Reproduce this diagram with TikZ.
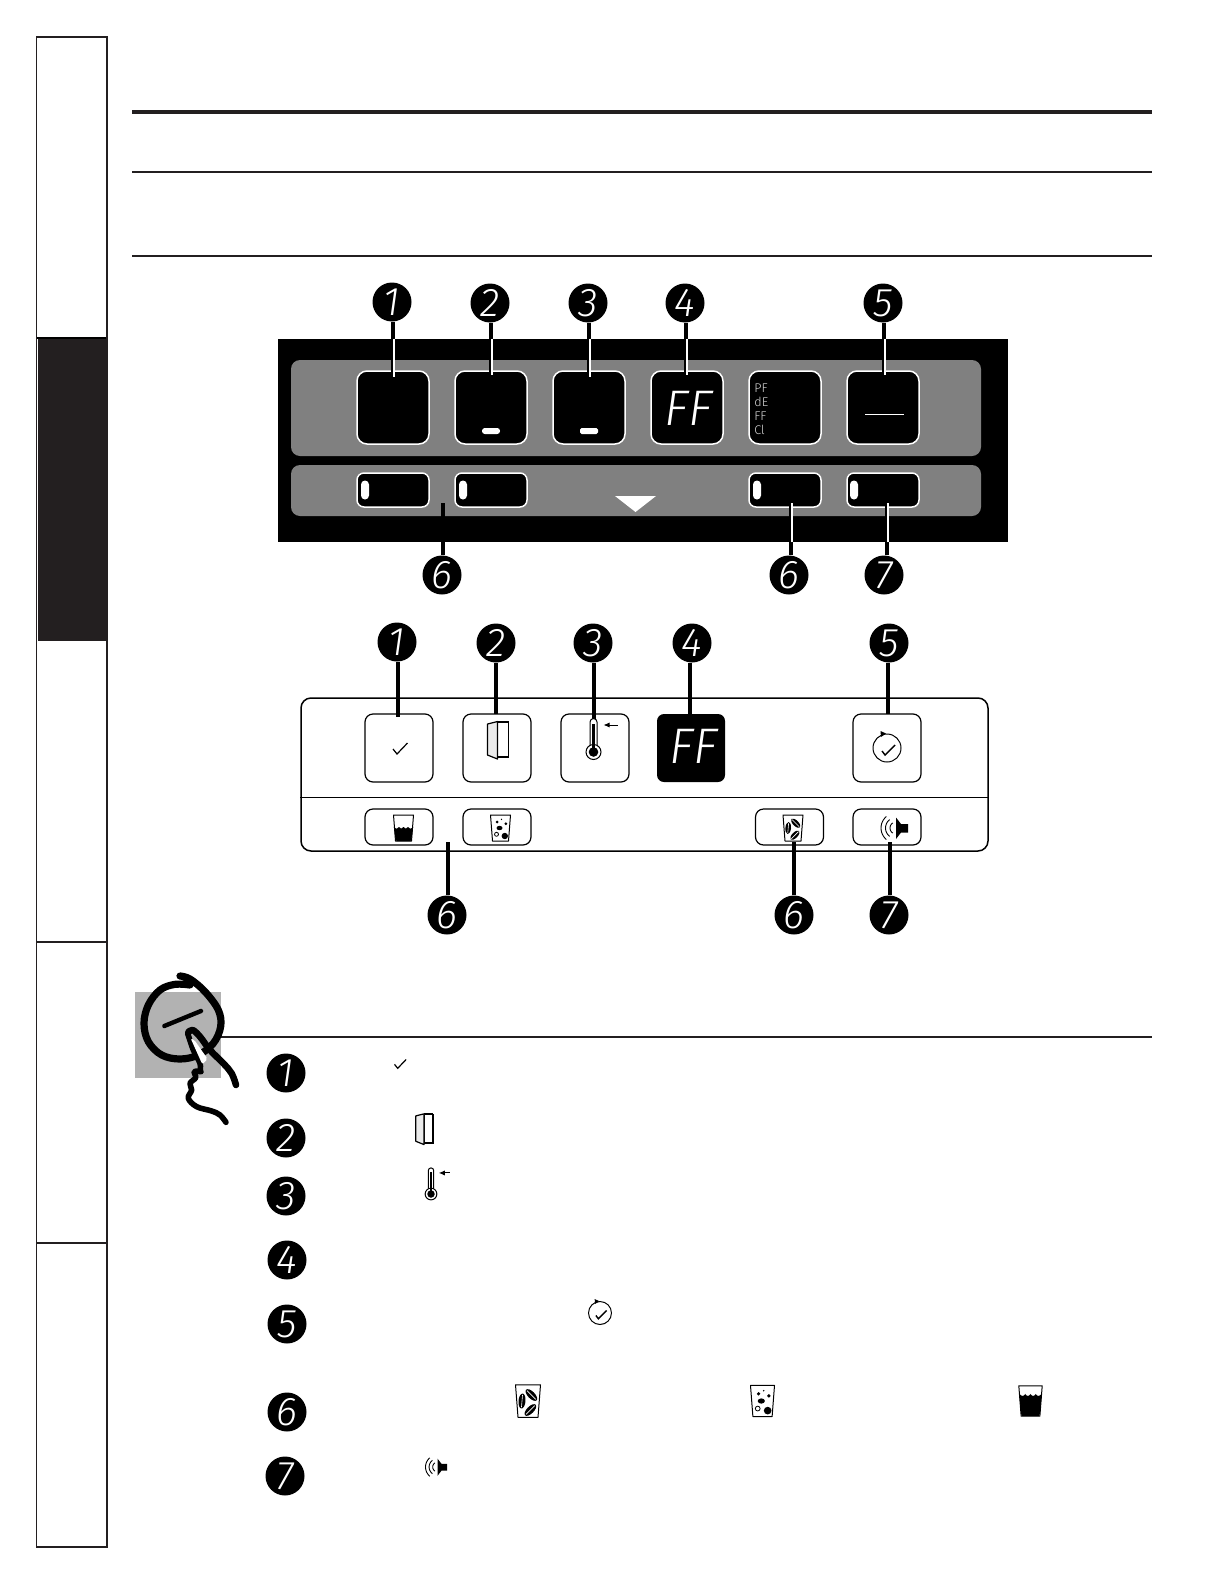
\documentclass[tikz,border=0pt]{standalone}
\usepackage{fontspec}
\setsansfont{Open Sans}
\newfontfamily\thinfont[ItalicFont={Fira Sans Light Italic}]{Fira Sans Light}
\definecolor{ink}{HTML}{231F20}
\definecolor{panelgrey}{HTML}{808080}
\definecolor{tabgrey}{HTML}{B2B2B2}
\usetikzlibrary{arrows.meta}
\tikzset{
  x=0.5pt,y=-0.5pt,
  badge/.style={circle,fill=black,minimum size=19.5pt,inner sep=0pt,text=white,font=\thinfont\itshape\fontsize{20}{20}\selectfont},
  darkbtn/.style={rectangle,rounded corners=5pt,draw=white,line width=.75pt,fill=black,inner sep=0pt},
  lightbtn/.style={rectangle,rounded corners=4pt,draw=black,line width=.6pt,fill=white,inner sep=0pt},
  bigbtn/.style={minimum width=36pt,minimum height=36.5pt},
  smallbtn/.style={minimum width=36pt,minimum height=17pt,rounded corners=3.5pt},
  lbigbtn/.style={minimum width=34pt,minimum height=34pt},
  lsmallbtn/.style={minimum width=34pt,minimum height=18pt},
  leadblack/.style={draw=black,line width=2pt},
  leadwhite/.style={draw=white,line width=1.25pt},
  rulethin/.style={draw=ink,line width=1pt},
  pill/.style={fill=white,rounded corners=2pt},
  ffont/.style={text=white,inner sep=0pt,font=\thinfont\itshape\fontsize{25}{25}\selectfont},
  hand/.style={draw=black,line cap=round,line join=round},
}
\newcommand{\iconcheck}[3]{\begin{scope}[shift={(#1,#2)},scale=#3]
  \draw[black,line width=.6pt] (-5,1) -- (-1,6) -- (9.5,-5);
\end{scope}}
\newcommand{\icondoor}[3]{\begin{scope}[shift={(#1,#2)},scale=#3]
  \draw[black,line width=.6pt,fill=white] (0,-18) rectangle (11,17);
  \draw[black,line width=1.1pt] (0,-18) -- (11,-18);
  \draw[black,line width=.6pt,fill=white!92!black,line join=round] (-10,-16) -- (0,-18.5) -- (0,19) -- (-10,15) -- cycle;
\end{scope}}
\newcommand{\iconthermo}[3]{\begin{scope}[shift={(#1,#2)},scale=#3]
  \draw[black,line width=.5pt,fill=white] (-3.5,-5) -- (-3.5,-30) arc[start angle=180,end angle=360,radius=3.5] -- (3.5,-5) -- cycle;
  \draw[black,line width=.5pt,fill=white] (0,0) circle[radius=7.5];
  \fill[black] (0,0) circle[radius=4.8];
  \fill[white] (-2.6,-6.5) rectangle (2.6,-5);
  \draw[black,line width=1.1pt] (0,-2) -- (0,-28);
  \draw[black,line width=.5pt,-{Latex[length=3pt,width=2.6pt]}] (24,-27) -- (10,-27);
\end{scope}}
\newcommand{\iconclock}[3]{\begin{scope}[shift={(#1,#2)},scale=#3]
  \draw[black,line width=.5pt] (0,0) circle[radius=14];
  \fill[black] (-6.5,-17) -- (-1,-14.5) -- (-6,-11) -- cycle;
  \draw[black,line width=.7pt] (-5,3) -- (-2,7) -- (8,-3);
\end{scope}}
\newcommand{\iconglass}{\draw[black,line width=.5pt,line join=round] (-10,-13) -- (10,-13) -- (8,13) -- (-8,13) -- cycle;}
% #4 = height of the liquid's wavy surface
\newcommand{\iconwater}[4]{\begin{scope}[shift={(#1,#2)},scale=#3]
  \iconglass
  \fill[black] (-9.6,#4) .. controls (-7,{#4+2.2}) and (-6,{#4+2.2}) .. (-4.5,#4) .. controls (-3,{#4+2.2}) and (-1.5,{#4+2.2}) .. (0,#4) .. controls (1.5,{#4+2.2}) and (3,{#4+2.2}) .. (4.5,#4) .. controls (6,{#4+2.2}) and (7,{#4+2.2}) .. (9.6,#4) -- (8,11) -- (7,13) -- (-7,13) -- (-8,11) -- cycle;
\end{scope}}
\newcommand{\iconice}[3]{\begin{scope}[shift={(#1,#2)},scale=#3]
  \iconglass
  \fill[black] (-3.3,-6) circle[radius=1.5];
  \fill[black] (1,-8.6) circle[radius=.7];
  \fill[black] (5.3,-4.3) circle[radius=1.5];
  \fill[black] (-1,0) ellipse[x radius=3,y radius=2.2];
  \draw[black,line width=.4pt] (-4,6.3) circle[radius=2];
  \fill[black] (4.3,8) circle[radius=3.2];
\end{scope}}
\newcommand{\onebean}[3]{\fill[black,rotate around={#3:(#1,#2)}] (#1,#2) ellipse[x radius=6,y radius=2.8];
  \draw[white,line width=.3pt,rotate around={#3:(#1,#2)}] ({#1-5},#2) -- ({#1+5},#2);}
\newcommand{\iconbeans}[3]{\begin{scope}[shift={(#1,#2)},scale=#3]
  \iconglass
  \onebean{-4.8}{0}{85}
  \onebean{2.7}{-4.8}{-45}
  \onebean{1.9}{7.2}{45}
\end{scope}}
\newcommand{\iconspeaker}[3]{\begin{scope}[shift={(#1,#2)},scale=#3]
  \fill[black] (0,-10.5) -- (5,-4) -- (12,-4) -- (12,4.5) -- (5,4.5) -- (0,11) -- cycle;
  \draw[black,line width=.45pt] plot[domain=122:238,samples=13,smooth] ({6*cos(\x)},{6*sin(\x)});
  \draw[black,line width=.45pt] plot[domain=127:233,samples=13,smooth] ({10.5*cos(\x)},{10.5*sin(\x)});
  \draw[black,line width=.45pt] plot[domain=130:230,samples=13,smooth] ({15*cos(\x)},{15*sin(\x)});
\end{scope}}
\begin{document}
\begin{tikzpicture}
\useasboundingbox (0,0) rectangle (1224,1584);
\fill[white] (0,0) rectangle (1224,1584);

% side tabs
\fill[ink] (38,337) rectangle (106,641);
\draw[black,line width=1pt] (37,337.5) -- (107,337.5);
\draw[ink,line width=.8pt] (36.5,37) -- (36.5,1547);
\draw[ink,line width=1.25pt] (107,37) -- (107,1547);
\draw[ink,line width=1.2pt] (36,37) -- (108,37);
\draw[ink,line width=1.2pt] (36,1547) -- (108,1547);
\draw[ink,line width=1.4pt] (37,942) -- (107,942);
\draw[ink,line width=1.4pt] (37,1243) -- (107,1243);

% header rules
\draw[ink,line width=2pt] (132,112) -- (1152,112);
\draw[rulethin] (132,172) -- (1152,172);
\draw[rulethin] (132,256) -- (1152,256);

% dark panel
\node[fill=black,inner sep=0pt,minimum width=365pt,minimum height=101.5pt] (toppanel) at (643,440.5) {};
\fill[panelgrey,rounded corners=4.5pt] (291,360) rectangle (981,456);
\fill[panelgrey,rounded corners=4.5pt] (291,465) rectangle (981,516);
\node[darkbtn,bigbtn] (pa) at (393,407.5) {};
\node[darkbtn,bigbtn] (pb) at (491,407.5) {};
\node[darkbtn,bigbtn] (pc) at (589,407.5) {};
\node[darkbtn,bigbtn] (pd) at (687,407.5) {};
\node[darkbtn,bigbtn] (pe) at (785,407.5) {};
\node[darkbtn,bigbtn] (pf) at (883,407.5) {};
\node[darkbtn,smallbtn] (qa) at (393,490) {};
\node[darkbtn,smallbtn] (qb) at (491,490) {};
\node[darkbtn,smallbtn] (qe) at (785,490) {};
\node[darkbtn,smallbtn] (qf) at (883,490) {};
\fill[white,rounded corners=1.4pt] (482,428) rectangle (500,434);
\fill[white,rounded corners=.8pt] (580,428) rectangle (598,434);
\draw[white,line width=.5pt] (865,414) -- (904,414);
\fill[pill] (361,480.5) rectangle (369,499.5);
\fill[pill] (459,480.5) rectangle (467,499.5);
\fill[pill] (753,480.5) rectangle (761,499.5);
\fill[pill] (850,480.5) rectangle (858,499.5);
\fill[white] (615,496) -- (656,496) -- (635.5,512) -- cycle;
\node[ffont] (ffa) at (688,408) {FF};
\node[text=white!85!black,inner sep=0pt,anchor=west,font=\thinfont\fontsize{6.3}{6.3}\selectfont] (la) at (754,388) {PF};
\node[text=white!85!black,inner sep=0pt,anchor=west,font=\thinfont\fontsize{6.3}{6.3}\selectfont] (lb) at (754,402) {dE};
\node[text=white!85!black,inner sep=0pt,anchor=west,font=\thinfont\fontsize{6.3}{6.3}\selectfont] (lc) at (754,416) {FF};
\node[text=white!85!black,inner sep=0pt,anchor=west,font=\thinfont\fontsize{6.3}{6.3}\selectfont] (ld) at (754,430) {Cl};

% badges, dark panel
\node[badge] (t1) at (392,302) {1};
\node[badge] (t2) at (490,303) {2};
\node[badge] (t3) at (588,303) {3};
\node[badge] (t4) at (685,303) {4};
\node[badge] (t5) at (883,303) {5};
\node[badge] (t6) at (442,575) {6};
\node[badge] (t7) at (789,575) {6};
\node[badge] (t8) at (884,575) {7};
\coordinate (c1) at (393,377);
\coordinate (c2) at (491,375);
\coordinate (c3) at (589,377);
\coordinate (c4) at (686,375);
\coordinate (c5) at (884,375);
\coordinate (c6) at (443,503);
\coordinate (c7) at (791,503);
\coordinate (c8) at (887,503);
\foreach \n in {1,...,5}{
  \draw[leadblack] (t\n.south -| c\n) -- (c\n);
  \draw[leadwhite] ([xshift=.5pt]c\n |- toppanel.north) -- ([xshift=.5pt]c\n);
}
\draw[leadblack] (t6.north -| c6) -- (c6);
\foreach \n in {7,8}{
  \draw[leadblack] (t\n.north -| c\n) -- (c\n);
  \draw[leadwhite] ([xshift=.5pt]c\n |- toppanel.south) -- ([xshift=.5pt]c\n);
}

% light panel
\node[draw=black,line width=.75pt,rounded corners=5pt,fill=white,inner sep=0pt,minimum width=343.5pt,minimum height=76.5pt] (lowpanel) at (644.5,774.5) {};
\draw[black,line width=.5pt] (lowpanel.west |- 0,797) -- (lowpanel.east |- 0,797);
\node[lightbtn,lbigbtn] (ra) at (399,748) {};
\node[lightbtn,lbigbtn] (rb) at (497,748) {};
\node[lightbtn,lbigbtn] (rc) at (595,748) {};
\node[fill=black,rounded corners=3.5pt,inner sep=0pt,minimum width=34pt,minimum height=34pt] (rd) at (691,748) {};
\node[lightbtn,lbigbtn] (rf) at (887,748) {};
\node[lightbtn,lsmallbtn] (sa) at (399,827) {};
\node[lightbtn,lsmallbtn] (sb) at (497,827) {};
\node[lightbtn,lsmallbtn] (se) at (789.5,827) {};
\node[lightbtn,lsmallbtn] (sf) at (887,827) {};
\node[ffont] (ffb) at (693,746) {FF};
\iconcheck{398}{748}{1}
\icondoor{497.5}{740}{1}
\iconclock{887}{748}{1}
\iconwater{403.5}{828}{1}{-1}
\iconice{500.5}{828}{1}
\iconbeans{793}{828}{1}
\iconspeaker{896}{828}{1}

\node[badge] (u1) at (397,642) {1};
\node[badge] (u2) at (496,643) {2};
\node[badge] (u3) at (593,643) {3};
\node[badge] (u4) at (692,643) {4};
\node[badge] (u5) at (889,643) {5};
\node[badge] (u6) at (447,915) {6};
\node[badge] (u7) at (794,915) {6};
\node[badge] (u8) at (889,915) {7};
\coordinate (d1) at (398,717);
\coordinate (d2) at (496,714);
\coordinate (d3) at (594,720);
\coordinate (d4) at (690,714);
\coordinate (d5) at (888,714);
\coordinate (d6) at (448,842);
\coordinate (d7) at (794,842);
\coordinate (d8) at (890,842);
\foreach \n in {1,...,5}{\draw[leadblack] (u\n.south -| d\n) -- (d\n);}
\foreach \n in {6,7,8}{\draw[leadblack] (u\n.north -| d\n) -- (d\n);}
\iconthermo{593.5}{752}{1}

% note marker
\fill[tabgrey] (135,992) rectangle (221,1078);
\draw[ink,line width=1pt] (221,1037) -- (1152,1037);
\begin{scope}[shift={(125,955)},scale=0.3333]
  \draw[hand,line width=3.6pt] plot[smooth,tension=.6] coordinates {(165,63) (195,72) (240,110) (280,165) (287,215) (265,265) (220,300) (165,312) (110,300) (70,260) (57,205) (70,150) (105,105) (150,88) (195,90)};
  \draw[hand,line width=2.2pt] (118,213) -- (228,168);
  \draw[hand,line width=3.3pt] plot[smooth,tension=.6] coordinates {(190,232) (203,225) (225,245) (255,285) (295,325) (320,355) (333,390)};
  \draw[hand,line width=2.8pt] plot[smooth,tension=.6] coordinates {(188,235) (205,285) (225,325) (225,348)};
  \fill[white,rounded corners=1pt] (197,250) -- (208,255) -- (248,312) -- (232,328) -- cycle;
  \draw[hand,line width=2.8pt] plot[smooth,tension=.6] coordinates {(228,350) (208,350) (212,368) (195,385) (200,405) (190,430) (215,455) (260,468) (285,480) (303,502)};
\end{scope}

% list badges
\node[badge] (v1) at (286,1073) {1};
\node[badge] (v2) at (286,1138) {2};
\node[badge] (v3) at (286,1196) {3};
\node[badge] (v4) at (287,1260) {4};
\node[badge] (v5) at (287,1324) {5};
\node[badge] (v6) at (287,1412) {6};
\node[badge] (v7) at (285,1476) {7};

% inline icons
\iconcheck{398.5}{1063.5}{.8}
\icondoor{424}{1129}{.82}
\iconthermo{431}{1194}{.78}
\iconclock{600}{1313}{.82}
\iconbeans{528}{1401}{1.25}
\iconice{762.5}{1401}{1.2}
\iconwater{1030.5}{1401}{1.17}{-6}
\iconspeaker{437.5}{1467}{.8}
\end{tikzpicture}
\end{document}
